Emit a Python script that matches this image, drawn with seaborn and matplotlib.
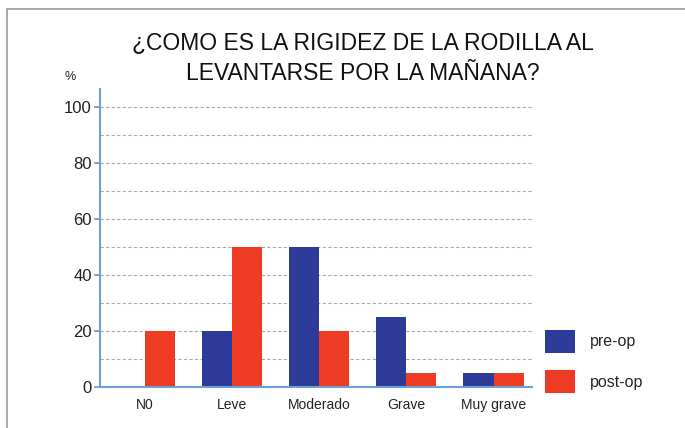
import matplotlib
matplotlib.use("Agg")
import matplotlib.pyplot as plt
import seaborn as sns
import pandas as pd
from matplotlib.lines import Line2D
from matplotlib.patches import Patch
from matplotlib import font_manager

categories = ["N0", "Leve", "Moderado", "Grave", "Muy grave"]
pre_op = [0, 20, 50, 25, 5]
post_op = [20, 50, 20, 5, 5]
series = ["pre-op", "post-op"]
colors = ["#2e3a97", "#ee3b24"]
yticks = [0, 20, 40, 60, 80, 100]

df = pd.DataFrame({
    "cat": categories * 2,
    "val": pre_op + post_op,
    "serie": [series[0]] * len(categories) + [series[1]] * len(categories),
})

sns.set_theme(style="white")
plt.rcParams["font.family"] = ["Liberation Sans", "DejaVu Sans"]

names = {f.name for f in font_manager.fontManager.ttflist}
title_family = ["Liberation Sans Narrow", "DejaVu Sans"] if "Liberation Sans Narrow" in names else ["Liberation Sans", "DejaVu Sans"]
title_size = 20 if "Liberation Sans Narrow" in names else 16.5

fig = plt.figure(figsize=(6.85, 4.28), dpi=100)
ax = fig.add_axes([100/685, 1-387/428, (532-100)/685, (387-89)/428])

sns.barplot(data=df, x="cat", y="val", hue="serie", palette=colors,
            width=0.69, saturation=1, ax=ax, legend=False, linewidth=0)

ax.set_xlim(-0.51, 4.44)
ax.set_ylim(0, 106.4)
ax.set_yticks(yticks)
ax.set_yticks(range(10, 101, 10), minor=True)
ax.set_yticklabels([str(v) for v in yticks], fontsize=12, color="#222222")
ax.set_xticks(range(len(categories)))
ax.set_xticklabels(categories, fontsize=10, color="#222222")
ax.grid(axis="y", which="both", linestyle=(0, (3, 2)), color="#aaaaaa", linewidth=0.8)
ax.set_axisbelow(True)
ax.set_xlabel("")
ax.set_ylabel("")
for s in ["top", "right"]:
    ax.spines[s].set_visible(False)
for s in ["left", "bottom"]:
    ax.spines[s].set_color("#6a9fd8")
    ax.spines[s].set_linewidth(1.5)
ax.tick_params(axis="y", which="major", left=True, length=4, color="#6a9fd8", pad=2)
ax.tick_params(axis="x", length=0, pad=8)

fig.text(363/685, 1-43/428, "¿COMO ES LA RIGIDEZ DE LA RODILLA AL", ha="center", va="center",
         fontsize=title_size, color="#111111", family=title_family)
fig.text(363/685, 1-73/428, "LEVANTARSE POR LA MAÑANA?", ha="center", va="center",
         fontsize=title_size, color="#111111", family=title_family)
fig.text(70/685, 1-77/428, "%", ha="center", va="center", fontsize=9, color="#222222")

handles = [Patch(facecolor=c, edgecolor="none") for c in colors]
fig.legend(handles, series, loc="upper left", bbox_to_anchor=(545/685, 1-330/428),
           frameon=False, fontsize=11.5, handlelength=1.9, handleheight=1.8,
           labelspacing=1.1, handletextpad=0.9, borderpad=0, borderaxespad=0)

fig.add_artist(Line2D([7/685, 7/685], [0, 1-9/428], color="#999999", linewidth=1.2,
                      transform=fig.transFigure))
fig.add_artist(Line2D([7/685, 1], [1-9/428, 1-9/428], color="#999999", linewidth=1.2,
                      transform=fig.transFigure))

fig.savefig("out.png", dpi=100)
